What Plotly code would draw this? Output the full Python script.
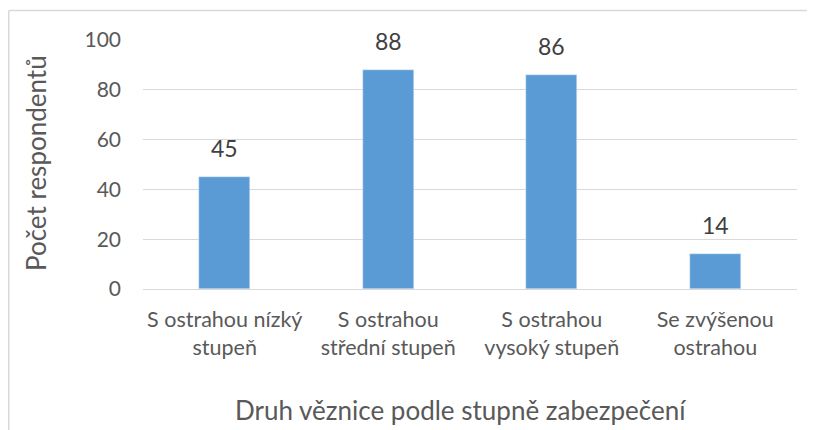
import plotly.graph_objects as go

categories = ["S ostrahou nízký<br>stupeň", "S ostrahou<br>střední stupeň",
              "S ostrahou<br>vysoký stupeň", "Se zvýšenou<br>ostrahou"]
values = [45, 88, 86, 14]
y_ticks = [0, 20, 40, 60, 80, 100]
x_title = "Druh věznice podle stupně zabezpečení"
y_title = "Počet respondentů"

FONT = "Lato, 'Open Sans', sans-serif"
GREY = "#595959"
OFF = 8  # default page body margin
W, H = 815 - OFF, 430 - OFF
L, T = 143 - OFF, 40 - OFF
R = W - (797 - OFF)
B = H - (289 - OFF)
pw, ph = W - L - R, H - T - B


def px_x(x):
    return (x - OFF - L) / pw


def px_y(y):
    return 1 - (y - OFF - T) / ph


fig = go.Figure(go.Bar(
    x=categories, y=values, marker_color="#5b9bd5", width=0.31,
    hoverinfo="x+y",
))

annotations = [
    dict(x=c, y=v, xref="x", yref="y", text=str(v), showarrow=False,
         yanchor="bottom", yshift=13, font=dict(size=23, color="#404040", family=FONT))
    for c, v in zip(categories, values)
]
annotations += [
    dict(x=px_x(460), y=px_y(410), xref="paper", yref="paper", text=x_title,
         showarrow=False, xanchor="center", yanchor="middle",
         font=dict(size=26, color=GREY, family=FONT)),
    dict(x=px_x(36), y=px_y(163), xref="paper", yref="paper", text=y_title,
         showarrow=False, xanchor="center", yanchor="middle", textangle=-90,
         font=dict(size=26, color=GREY, family=FONT)),
]

fig.update_layout(
    width=W, height=H, margin=dict(l=L, r=R, t=T, b=B, autoexpand=False),
    plot_bgcolor="white", paper_bgcolor="white", showlegend=False,
    font=dict(family=FONT, color=GREY),
    bargap=0,
    yaxis=dict(range=[0, 100], tickvals=y_ticks, showgrid=True, gridcolor="#d9d9d9",
               gridwidth=1, zeroline=False, tickfont=dict(size=21, color=GREY),
               ticklabelstandoff=21, showline=False, automargin=False),
    xaxis=dict(showline=True, linecolor="#d9d9d9", linewidth=1, automargin=False,
               tickfont=dict(size=21.5, color=GREY), ticklabelstandoff=11),
    annotations=annotations,
    shapes=[
        dict(type="line", xref="paper", yref="paper", x0=px_x(8.75), x1=px_x(900),
             y0=px_y(10.5), y1=px_y(10.5), line=dict(color="#d9d9d9", width=1.5)),
        dict(type="line", xref="paper", yref="paper", x0=px_x(8.75), x1=px_x(8.75),
             y0=px_y(10.5), y1=px_y(600), line=dict(color="#d9d9d9", width=1.5)),
    ],
)

fig.write_html("out.html")
